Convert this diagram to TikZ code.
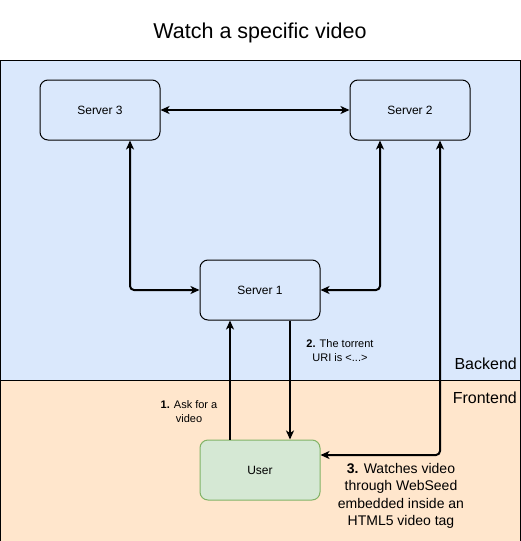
\documentclass[tikz,border=0pt]{standalone}
\usepackage{fontspec}
\setmainfont{Liberation Sans}
\usepackage{tikz}
\usetikzlibrary{positioning, arrows.meta, calc}
\usepackage{xcolor}
\definecolor{backblue}{HTML}{DAE8FC}
\definecolor{frontpeach}{HTML}{FFE6CC}
\definecolor{userfill}{HTML}{D5E8D4}
\definecolor{userline}{HTML}{82B366}

\begin{document}
\begin{tikzpicture}[x=1pt, y=-1pt, >={Stealth[length=9pt,width=8pt,inset=2.5pt]}]
        \tikzstyle{server}=[draw, line width=1pt, rounded corners=8pt, minimum width=120pt, minimum height=60pt, inner sep=0pt, font=\fontsize{12}{14}\selectfont]
        \tikzstyle{link}=[line width=2pt, rounded corners=4pt]
        \tikzstyle{lbl}=[align=center, inner sep=0pt]
        \useasboundingbox (0,0) rectangle (521,541);

        % Layers
        \fill[frontpeach] (0,380) rectangle (520,560);
        \draw[line width=1pt] (0,560) -- (0,380) -- (520,380) -- (520,560);
        \draw[line width=1pt, fill=backblue] (0,60) rectangle (520,380);
        \node[lbl, anchor=east, font=\fontsize{16}{18}\selectfont] (backend) at (517,364) {Backend};
        \node[lbl, anchor=east, font=\fontsize{16}{18}\selectfont] (frontend) at (517,398) {Frontend};

        % Title
        \node[lbl, font=\fontsize{21.5}{25}\selectfont] (title) at (260,33) {Watch a specific video};

        % Servers and user
        \node[server, fill=backblue] (s3) at (100,110) {Server 3};
        \node[server, fill=backblue] (s2) at (410,110) {Server 2};
        \node[server, fill=backblue] (s1) at (260,290) {Server 1};
        \node[server, fill=userfill, draw=userline] (user) at (260,470) {User};

        % Backend links
        \draw[<->, link] (s3) -- (s2);
        \draw[<->, link] ([xshift=30pt]s3.south) |- (s1.west);
        \draw[<->, link] ([xshift=-30pt]s2.south) |- (s1.east);

        % Requests between user and server 1
        \draw[->, link] ([xshift=-30pt]user.north) -- ([xshift=-30pt]s1.south);
        \draw[->, link] ([xshift=30pt]s1.south) -- ([xshift=30pt]user.north);

        % --- Video stream from server 2 ---
        \draw[<->, link] ([xshift=30pt]s2.south) |- ([yshift=15pt]user.east);

        % Labels
        \node[lbl, font=\fontsize{11}{14}\selectfont] (ask) at (189,412) {\textbf{1.} Ask for a\\video};
        \node[lbl, font=\fontsize{11}{14}\selectfont] (uri) at (340,351) {\textbf{2.} The torrent\\URI is <...>};
        \node[lbl, font=\fontsize{14}{17.5}\selectfont] (watch) at (401,496) {\textbf{3.} Watches video\\through WebSeed\\embedded inside an\\HTML5 video tag};
    \end{tikzpicture}
\end{document}
